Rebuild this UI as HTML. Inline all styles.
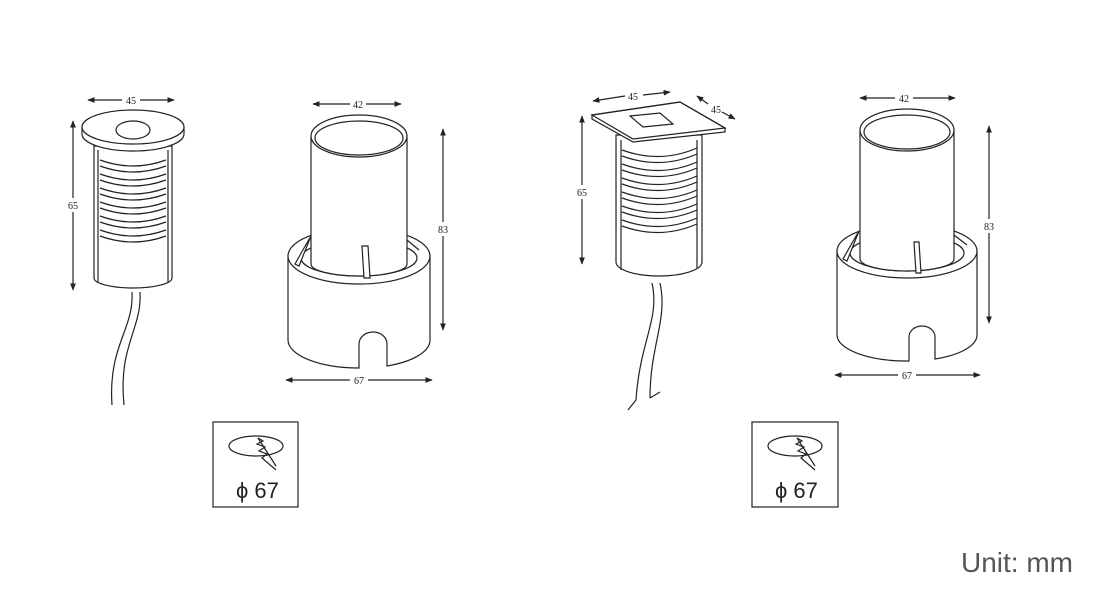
<!DOCTYPE html>
<html><head><style>
html,body{margin:0;padding:0;background:#fff;}
svg{display:block;}
.l{fill:none;stroke:#222;stroke-width:1.2}
.w{fill:#fff;stroke:#222;stroke-width:1.2}
.t{font-family:"Liberation Serif",serif;font-size:10px;fill:#222}
</style></head><body>
<svg width="1093" height="605" viewBox="0 0 1093 605" xmlns="http://www.w3.org/2000/svg">
<defs>
<marker id="a" viewBox="0 0 10 10" refX="9" refY="5" markerWidth="6" markerHeight="6" orient="auto-start-reverse"><path d="M0,1 L10,5 L0,9z" fill="#222"/></marker>
</defs>

<!-- Light 1 round -->
<g>
<line class="l" x1="88" y1="100" x2="122" y2="100" marker-start="url(#a)"/>
<line class="l" x1="140" y1="100" x2="174" y2="100" marker-end="url(#a)"/>
<text class="t" x="131" y="104" text-anchor="middle">45</text>
<line class="l" x1="73" y1="121" x2="73" y2="198" marker-start="url(#a)"/>
<line class="l" x1="73" y1="212" x2="73" y2="290" marker-end="url(#a)"/>
<text class="t" x="73" y="209" text-anchor="middle">65</text>
<path class="l" d="M132,292 C134,330 108,345 112,405 M140,292 C142,330 118,345 124,405"/>
<path class="w" d="M94,146 L94,278 A39,10 0 0 0 172,278 L172,146 Z"/>
<line class="l" x1="98" y1="150" x2="98" y2="282"/>
<line class="l" x1="168" y1="150" x2="168" y2="282"/>
<g class="l">
<path d="M100,160 Q133,172 166,160"/><path d="M100,166 Q133,178 166,166"/>
<path d="M100,174 Q133,186 166,174"/><path d="M100,180 Q133,192 166,180"/>
<path d="M100,188 Q133,200 166,188"/><path d="M100,194 Q133,206 166,194"/>
<path d="M100,202 Q133,214 166,202"/><path d="M100,208 Q133,220 166,208"/>
<path d="M100,216 Q133,228 166,216"/><path d="M100,222 Q133,234 166,222"/>
<path d="M100,230 Q133,242 166,230"/><path d="M100,236 Q133,248 166,236"/>
</g>
<path class="w" d="M82,127 L82,134 A51,17 0 0 0 184,134 L184,127"/>
<path class="l" d="M84,131 A50,16 0 0 0 182,131"/>
<ellipse class="w" cx="133" cy="127" rx="51" ry="17"/>
<ellipse class="l" cx="133" cy="130" rx="17" ry="9"/>
</g>

<!-- Socket 1 -->
<g transform="translate(359,256)">
<path class="w" d="M-71,0 L-71,84 A71,28 0 0 0 0,112 L0,88 A14,12 0 0 1 28,88 L28,110 A71,28 0 0 0 71,84 L71,0 Z"/>
<ellipse class="w" cx="0" cy="0" rx="71" ry="28"/>
<ellipse class="l" cx="0" cy="2" rx="58" ry="18"/>
<path class="w" d="M-48,-120 L-48,8 A48,12 0 0 0 48,8 L48,-120 Z"/>
<ellipse class="w" cx="0" cy="-120" rx="48" ry="21"/>
<ellipse class="l" cx="0" cy="-118" rx="44" ry="17"/>
<path class="w" d="M-55,-8 L-48,-20 L-60,10 L-64,8 Z"/>
<path class="w" d="M3,-10 L9,-10 L11,22 L5,22 Z"/>
<path class="l" d="M48,-16 L60,-6"/>
</g>
<line class="l" x1="313" y1="104" x2="350" y2="104" marker-start="url(#a)"/>
<line class="l" x1="366" y1="104" x2="401" y2="104" marker-end="url(#a)"/>
<text class="t" x="358" y="108" text-anchor="middle">42</text>
<line class="l" x1="443" y1="129" x2="443" y2="222" marker-start="url(#a)"/>
<line class="l" x1="443" y1="236" x2="443" y2="330" marker-end="url(#a)"/>
<text class="t" x="443" y="233" text-anchor="middle">83</text>
<line class="l" x1="286" y1="380" x2="350" y2="380" marker-start="url(#a)"/>
<line class="l" x1="368" y1="380" x2="432" y2="380" marker-end="url(#a)"/>
<text class="t" x="359" y="384" text-anchor="middle">67</text>

<!-- Light 3 square -->
<g>
<line class="l" x1="593" y1="101" x2="625" y2="96" marker-start="url(#a)"/>
<line class="l" x1="643" y1="95" x2="670" y2="92" marker-end="url(#a)"/>
<text class="t" x="633" y="100" text-anchor="middle">45</text>
<line class="l" x1="697" y1="96" x2="708" y2="104" marker-start="url(#a)"/>
<line class="l" x1="722" y1="112" x2="735" y2="119" marker-end="url(#a)"/>
<text class="t" x="716" y="113" text-anchor="middle">45</text>
<line class="l" x1="582" y1="116" x2="582" y2="185" marker-start="url(#a)"/>
<line class="l" x1="582" y1="199" x2="582" y2="264" marker-end="url(#a)"/>
<text class="t" x="582" y="196" text-anchor="middle">65</text>
<path class="l" d="M652,283 C660,320 640,340 636,400 M660,283 C668,320 650,345 650,398 M636,400 L628,410 M650,398 L660,392"/>
<path class="w" d="M616,135 L616,262 A43,14 0 0 0 702,262 L702,135 Z"/>
<line class="l" x1="621" y1="140" x2="621" y2="270"/>
<line class="l" x1="697" y1="140" x2="697" y2="268"/>
<g class="l">
<path d="M622,150 Q660,164 697,148"/><path d="M622,156 Q660,170 697,154"/>
<path d="M622,164 Q660,178 697,162"/><path d="M622,170 Q660,184 697,168"/>
<path d="M622,178 Q660,192 697,176"/><path d="M622,184 Q660,198 697,182"/>
<path d="M622,192 Q660,206 697,190"/><path d="M622,198 Q660,212 697,196"/>
<path d="M622,206 Q660,220 697,204"/><path d="M622,212 Q660,226 697,210"/>
<path d="M622,220 Q660,234 697,218"/><path d="M622,226 Q660,240 697,224"/>
</g>
<path class="w" d="M592,115 L680,102 L725,128 L725,132 L633,142 L592,119 Z"/>
<path class="l" d="M592,115 L680,102 L725,128 L633,139 Z"/>
<path class="l" d="M630,116 L660,113 L673,124 L643,127 Z"/>
</g>

<!-- Socket 2 -->
<g transform="translate(907,251)">
<path class="w" d="M-70,0 L-70,84 A70,26 0 0 0 2,110 L2,86 A13,11 0 0 1 28,86 L28,108 A70,26 0 0 0 70,84 L70,0 Z"/>
<ellipse class="w" cx="0" cy="0" rx="70" ry="27"/>
<ellipse class="l" cx="0" cy="2" rx="57" ry="18"/>
<path class="w" d="M-47,-121 L-47,8 A47,12 0 0 0 47,8 L47,-121 Z"/>
<ellipse class="w" cx="0" cy="-121" rx="47" ry="21"/>
<ellipse class="l" cx="0" cy="-119" rx="43" ry="17"/>
<path class="w" d="M-55,-8 L-48,-20 L-60,10 L-64,8 Z"/>
<path class="w" d="M7,-9 L12,-9 L14,22 L9,22 Z"/>
<path class="l" d="M47,-16 L60,-6"/>
</g>
<line class="l" x1="860" y1="98" x2="895" y2="98" marker-start="url(#a)"/>
<line class="l" x1="913" y1="98" x2="955" y2="98" marker-end="url(#a)"/>
<text class="t" x="904" y="102" text-anchor="middle">42</text>
<line class="l" x1="989" y1="126" x2="989" y2="219" marker-start="url(#a)"/>
<line class="l" x1="989" y1="233" x2="989" y2="323" marker-end="url(#a)"/>
<text class="t" x="989" y="230" text-anchor="middle">83</text>
<line class="l" x1="835" y1="375" x2="898" y2="375" marker-start="url(#a)"/>
<line class="l" x1="916" y1="375" x2="980" y2="375" marker-end="url(#a)"/>
<text class="t" x="907" y="379" text-anchor="middle">67</text>

<!-- Icon boxes -->
<g>
<rect x="213" y="422" width="85" height="85" fill="#fff" stroke="#222" stroke-width="1.2"/>
<ellipse class="l" cx="256" cy="446" rx="27" ry="10"/>
<path class="l" d="M258,438 L263,441 L257,444 L265,447 L259,451 L267,454 L262,458 L276,470"/>
<line class="l" x1="258" y1="438" x2="276" y2="466"/>
<text x="236" y="498" font-family="Liberation Sans, sans-serif" font-size="22" fill="#222">ϕ 67</text>
</g>
<g>
<rect x="752" y="422" width="86" height="85" fill="#fff" stroke="#222" stroke-width="1.2"/>
<ellipse class="l" cx="795" cy="446" rx="27" ry="10"/>
<path class="l" d="M797,438 L802,441 L796,444 L804,447 L798,451 L806,454 L801,458 L815,470"/>
<line class="l" x1="797" y1="438" x2="815" y2="466"/>
<text x="775" y="498" font-family="Liberation Sans, sans-serif" font-size="22" fill="#222">ϕ 67</text>
</g>

<text x="961" y="572" font-family="Liberation Sans, sans-serif" font-size="28" fill="#555">Unit: mm</text>
</svg>
</body></html>
